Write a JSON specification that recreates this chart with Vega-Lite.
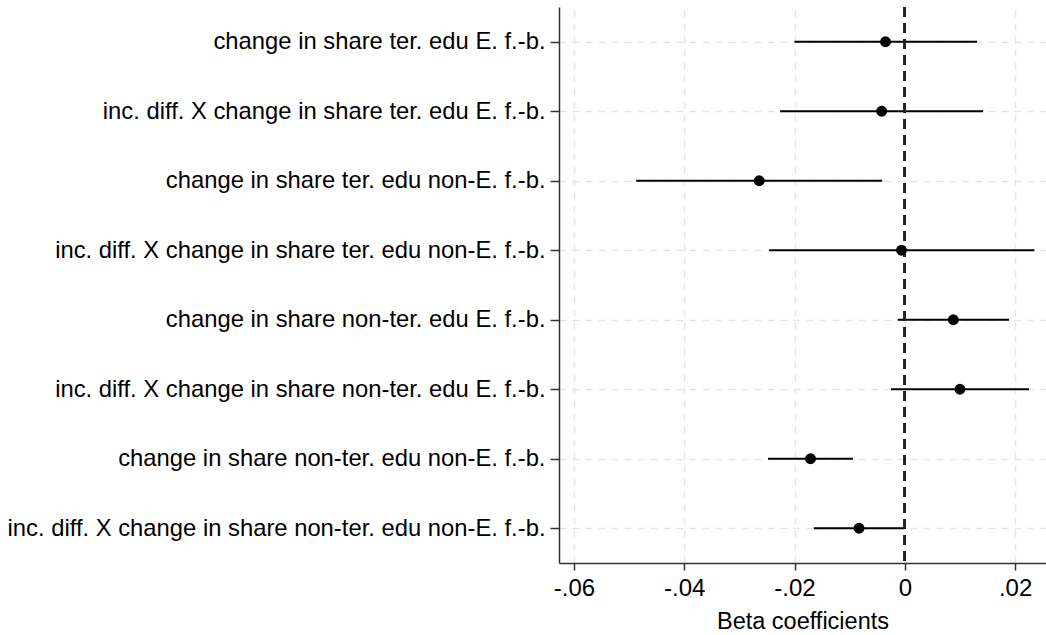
{
  "$schema": "https://vega.github.io/schema/vega-lite/v6.json",
  "width": 487,
  "height": 556,
  "autosize": {"type": "none"},
  "padding": {"left": 559, "top": 7, "right": 0, "bottom": 72},
  "background": "white",
  "config": {
    "view": {"stroke": null},
    "font": "Liberation Sans",
    "axis": {
      "labelFont": "Liberation Sans",
      "titleFont": "Liberation Sans",
      "labelColor": "#000000",
      "titleColor": "#000000",
      "domainColor": "#333333",
      "domainWidth": 1.5,
      "tickColor": "#333333",
      "tickWidth": 1.5,
      "gridColor": "#e6e6e6",
      "gridDash": [7, 6],
      "gridWidth": 1.5
    }
  },
  "data": {
    "values": [
      {"term": "change in share ter. edu E. f.-b.", "b": -0.0035, "lo": -0.0200, "hi": 0.0131},
      {"term": "inc. diff. X change in share ter. edu E. f.-b.", "b": -0.0042, "lo": -0.0226, "hi": 0.0142},
      {"term": "change in share ter. edu non-E. f.-b.", "b": -0.0264, "lo": -0.0487, "hi": -0.0041},
      {"term": "inc. diff. X change in share ter. edu non-E. f.-b.", "b": -0.0006, "lo": -0.0246, "hi": 0.0235},
      {"term": "change in share non-ter. edu E. f.-b.", "b": 0.0088, "lo": -0.0013, "hi": 0.0189},
      {"term": "inc. diff. X change in share non-ter. edu E. f.-b.", "b": 0.0100, "lo": -0.0025, "hi": 0.0225},
      {"term": "change in share non-ter. edu non-E. f.-b.", "b": -0.0171, "lo": -0.0248, "hi": -0.0094},
      {"term": "inc. diff. X change in share non-ter. edu non-E. f.-b.", "b": -0.0083, "lo": -0.0165, "hi": 0.0000}
    ]
  },
  "encoding": {
    "y": {
      "field": "term",
      "type": "nominal",
      "sort": null,
      "scale": {"type": "point", "padding": 0.5},
      "axis": {
        "title": null,
        "labelFontSize": 23.8,
        "labelPadding": 5,
        "tickSize": 9,
        "grid": true,
        "labelLimit": 700
      }
    }
  },
  "layer": [
    {
      "mark": {"type": "rule", "stroke": "#000000", "strokeWidth": 2.2},
      "encoding": {
        "x": {
          "field": "lo",
          "type": "quantitative",
          "scale": {"domain": [-0.0627, 0.0256], "nice": false, "zero": false},
          "axis": {
            "title": "Beta coefficients",
            "titleFontSize": 23.5,
            "titleFontWeight": "normal",
            "titlePadding": 9,
            "labelFontSize": 24,
            "labelPadding": 6,
            "tickSize": 7,
            "values": [-0.06, -0.04, -0.02, 0, 0.02],
            "labelExpr": "datum.value == 0 ? '0' : (datum.value < 0 ? '-' : '') + replace(format(abs(datum.value), '.2f'), '0.', '.')",
            "grid": true
          }
        },
        "x2": {"field": "hi"}
      }
    },
    {
      "mark": {"type": "rule", "stroke": "#222222", "strokeWidth": 2.2, "strokeDash": [10, 6]},
      "encoding": {"x": {"datum": 0, "type": "quantitative"}, "y": null}
    },
    {
      "mark": {"type": "point", "filled": true, "shape": "circle", "color": "#000000", "size": 120, "opacity": 1},
      "encoding": {
        "x": {"field": "b", "type": "quantitative"}
      }
    }
  ]
}
